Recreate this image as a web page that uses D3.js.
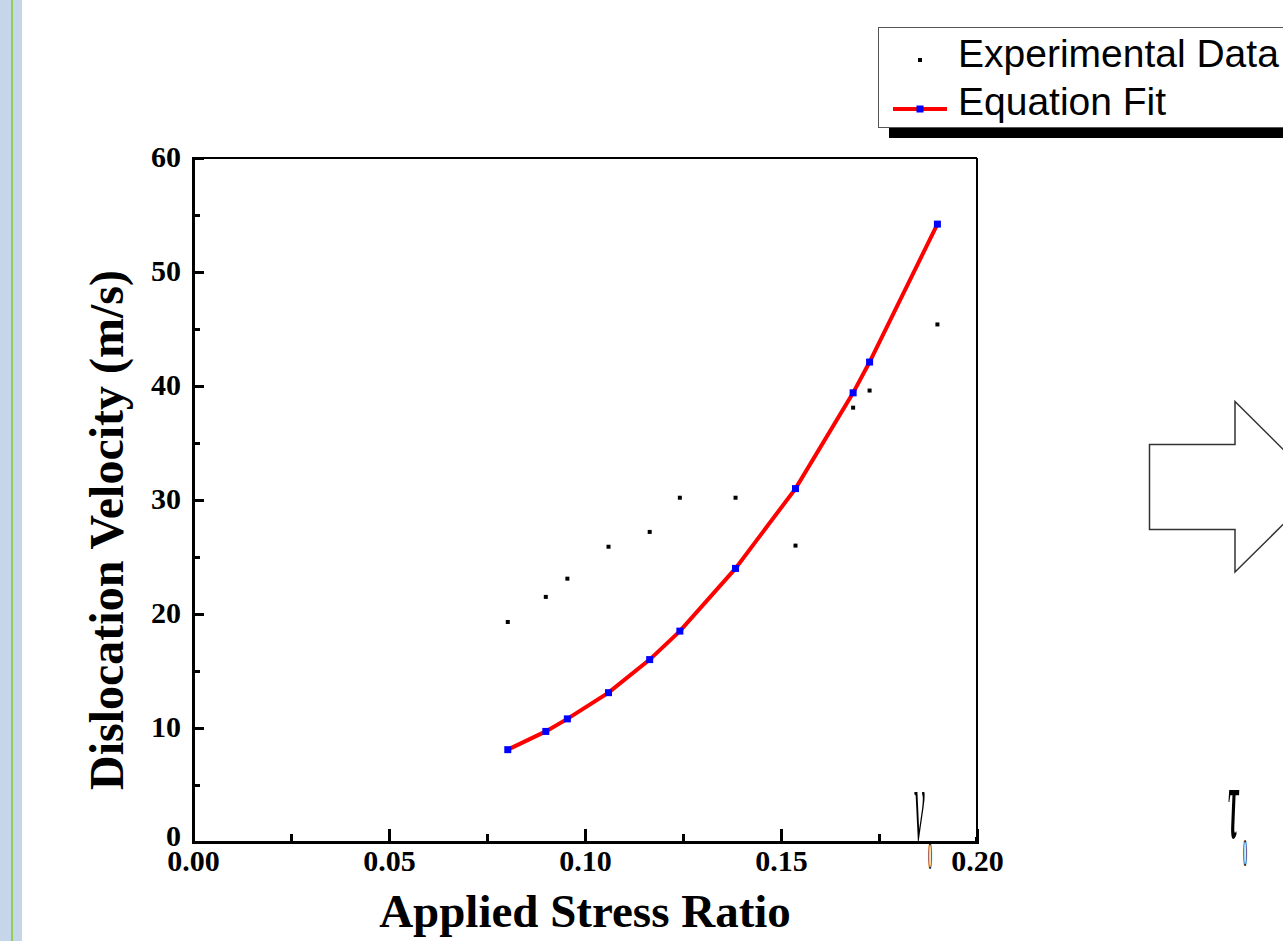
<!DOCTYPE html>
<html>
<head>
<meta charset="utf-8">
<script src="https://cdn.jsdelivr.net/npm/d3@7"></script>
<style>
  body { margin: 0; background: #fff; overflow: hidden; }
  svg { display: block; }
</style>
</head>
<body>
<script>
// data
var stressRatio = [0.0803, 0.0900, 0.0955, 0.1060, 0.1165, 0.1242, 0.1384, 0.1537, 0.1684, 0.1726, 0.1899];
var experimental = [19.3, 21.5, 23.1, 25.9, 27.2, 30.2, 30.2, 26.0, 38.1, 39.6, 45.4];
var equationFit = [8.1, 9.7, 10.8, 13.1, 16.0, 18.5, 24.0, 31.0, 39.4, 42.1, 54.2];
var xTicks = [0, 0.05, 0.10, 0.15, 0.20];
var yTicks = [0, 10, 20, 30, 40, 50, 60];
var legendLabels = ["Experimental Data", "Equation Fit"];

var width = 1283, height = 941;

var svg = d3.select("body").append("svg")
    .attr("width", width)
    .attr("height", height);

// slide strip on the left
svg.append("rect").attr("x", 0).attr("y", 0).attr("width", 22).attr("height", height).attr("fill", "#c6d6ea");
svg.append("rect").attr("x", 11).attr("y", 0).attr("width", 2).attr("height", height).attr("fill", "#92d050");

var x = d3.scaleLinear().domain([0, 0.2]).range([193, 977]);
var y = d3.scaleLinear().domain([0, 60]).range([842, 158]);

var serif = "'Liberation Serif', 'Times New Roman', serif";
var sans = "'Liberation Sans', Arial, sans-serif";

// top and right frame
svg.append("line").attr("x1", x(0)).attr("x2", x(0.2)).attr("y1", y(60)).attr("y2", y(60))
    .attr("stroke", "#000").attr("stroke-width", 2);
svg.append("line").attr("x1", x(0.2)).attr("x2", x(0.2)).attr("y1", y(60)).attr("y2", y(0))
    .attr("stroke", "#000").attr("stroke-width", 2);
svg.append("rect").attr("x", x(0.2) - 2).attr("y", y(0) - 5).attr("width", 4).attr("height", 6).attr("fill", "#000");

// minor ticks
var xMinor = svg.append("g").attr("transform", "translate(0," + y(0) + ")")
    .call(d3.axisBottom(x).tickValues([0.025, 0.075, 0.125, 0.175]).tickSize(-8).tickFormat(""));
var yMinor = svg.append("g").attr("transform", "translate(" + x(0) + ",0)")
    .call(d3.axisLeft(y).tickValues([5, 15, 25, 35, 45, 55]).tickSize(-7).tickFormat(""));

var xAxis = svg.append("g").attr("transform", "translate(0," + y(0) + ")")
    .call(d3.axisBottom(x).tickValues(xTicks).tickSize(-13).tickPadding(8).tickFormat(d3.format(".2f")));
var yAxis = svg.append("g").attr("transform", "translate(" + x(0) + ",0)")
    .call(d3.axisLeft(y).tickValues(yTicks).tickSize(-11).tickPadding(12).tickFormat(d3.format("d")));

[xMinor, yMinor, xAxis, yAxis].forEach(function (g) {
  g.select(".domain").attr("stroke", "#000").attr("stroke-width", 3);
  g.selectAll(".tick line").attr("stroke", "#000").attr("stroke-width", 3);
  g.selectAll(".tick text").attr("fill", "#000")
    .style("font-family", serif).style("font-weight", "bold").style("font-size", "30px");
});
xMinor.select(".domain").remove();
yMinor.select(".domain").remove();
yAxis.selectAll(".tick text").attr("dy", function (d) { return d === 0 ? "0.12em" : "0.28em"; });

// axis titles
svg.append("text")
    .attr("x", (x(0) + x(0.2)) / 2).attr("y", 927)
    .attr("text-anchor", "middle")
    .style("font-family", serif).style("font-weight", "bold").style("font-size", "47px")
    .text("Applied Stress Ratio");
svg.append("text")
    .attr("transform", "translate(123," + 530 + ") rotate(-90)")
    .attr("text-anchor", "middle")
    .style("font-family", serif).style("font-weight", "bold").style("font-size", "48px")
    .text("Dislocation Velocity (m/s)");

// fit line
var pts = stressRatio.map(function (d, i) { return [d, equationFit[i]]; });
svg.append("path")
    .datum(pts)
    .attr("fill", "none").attr("stroke", "#ff0000").attr("stroke-width", 4)
    .attr("d", d3.line().x(function (d) { return x(d[0]); }).y(function (d) { return y(d[1]); }));

svg.selectAll(".fit").data(pts).enter().append("rect")
    .attr("class", "fit")
    .attr("x", function (d) { return x(d[0]) - 3.5; })
    .attr("y", function (d) { return y(d[1]) - 3.5; })
    .attr("width", 7).attr("height", 7).attr("fill", "#0000ff");

svg.selectAll(".exp").data(stressRatio).enter().append("rect")
    .attr("class", "exp")
    .attr("x", function (d) { return x(d) - 2; })
    .attr("y", function (d, i) { return y(experimental[i]) - 2; })
    .attr("width", 4).attr("height", 4).attr("fill", "#000");

// legend
svg.append("rect").attr("x", 889).attr("y", 128).attr("width", 400).attr("height", 10).attr("fill", "#000");
svg.append("rect").attr("x", 878.5).attr("y", 27.5).attr("width", 420).attr("height", 100)
    .attr("fill", "#fff").attr("stroke", "#555").attr("stroke-width", 1);
svg.append("rect").attr("x", 918).attr("y", 58).attr("width", 4).attr("height", 4).attr("fill", "#000");
svg.append("line").attr("x1", 893).attr("x2", 947).attr("y1", 109).attr("y2", 109)
    .attr("stroke", "#ff0000").attr("stroke-width", 4);
svg.append("rect").attr("x", 916.5).attr("y", 105.5).attr("width", 7).attr("height", 7).attr("fill", "#0000ff");
svg.selectAll(".leg").data(legendLabels).enter().append("text")
    .attr("x", 958)
    .attr("y", function (d, i) { return 67 + i * 48; })
    .style("font-family", sans).style("font-size", "39px")
    .text(function (d) { return d; });

// arrow shape on the right
var arrow = [[1149.5, 444.5], [1235, 444.5], [1235, 401.5], [1321, 487], [1235, 572], [1235, 529.5], [1149.5, 529.5]];
svg.append("path")
    .attr("d", d3.line()(arrow) + "Z")
    .attr("fill", "#fff").attr("stroke", "#333").attr("stroke-width", 1.5);

// stretched symbols
svg.append("text").attr("transform", "translate(914,840) scale(0.6,2.6)")
    .style("font-family", serif).style("font-style", "italic").style("font-size", "40px").text("v");
svg.append("text").attr("transform", "translate(928,869) scale(0.45,2.2)")
    .style("font-family", serif).style("font-size", "18px").text("0");
svg.append("text").attr("transform", "translate(1228,838) scale(0.6,2.6)")
    .style("font-family", serif).style("font-style", "italic").style("font-weight", "bold").style("font-size", "40px").text("τ");
svg.append("text").attr("transform", "translate(1243,866) scale(0.45,2.2)")
    .style("font-family", serif).style("font-size", "18px").text("0");
</script>
</body>
</html>
